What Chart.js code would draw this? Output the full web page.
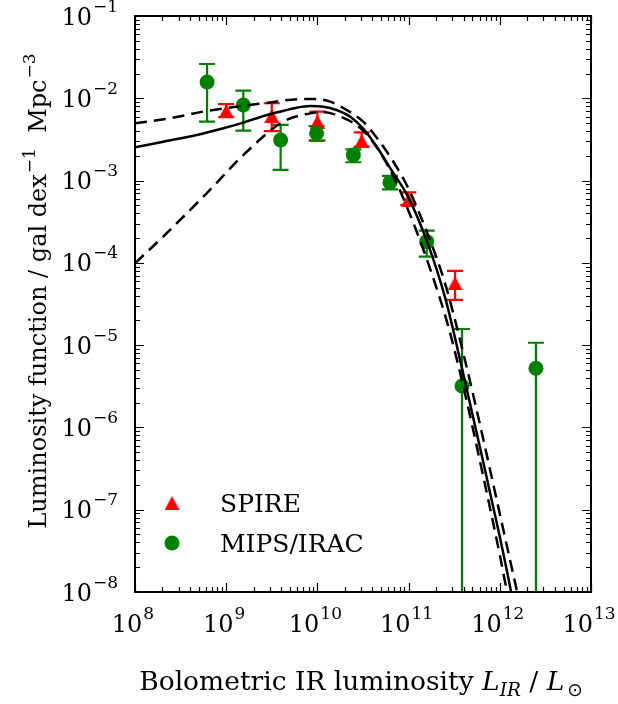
<!DOCTYPE html>
<html><head><meta charset="utf-8">
<script src="https://cdn.jsdelivr.net/npm/chart.js@4.4.1/dist/chart.umd.min.js"></script>
<style>html,body{margin:0;padding:0;background:#fff}canvas{display:block}</style>
</head><body>
<canvas id="c" width="618" height="704"></canvas>
<script>
// ---------- data ----------
const spireL   = [1.0e9, 3.16e9, 1.0e10, 3.06e10, 9.93e10, 3.23e11];
const spirePhi = [7.0e-3, 6.1e-3, 5.2e-3, 3.03e-3, 5.8e-4, 5.65e-5];
const spireLo  = [5.9e-3, 4.0e-3, 3.05e-3, 2.58e-3, 5.06e-4, 3.54e-5];
const spireHi  = [8.5e-3, 8.7e-3, 6.9e-3, 3.86e-3, 7.2e-4, 7.98e-5];

const mipsL   = [6.17e8, 1.54e9, 3.95e9, 9.8e9, 2.48e10, 6.25e10, 1.58e11, 3.85e11, 2.49e12];
const mipsPhi = [1.58e-2, 8.3e-3, 3.11e-3, 3.76e-3, 2.05e-3, 9.5e-4, 1.81e-4, 3.19e-6, 5.24e-6];
const mipsLo  = [5.2e-3, 4.04e-3, 1.35e-3, 3.05e-3, 1.67e-3, 7.8e-4, 1.19e-4, 1e-9, 1e-9];
const mipsHi  = [2.61e-2, 1.24e-2, 4.74e-3, 4.6e-3, 2.4e-3, 1.14e-3, 2.47e-4, 1.57e-5, 1.07e-5];

const solidL   = [1e8, 2.04e8, 4.75e8, 9.33e8, 1.54e9, 2.57e9, 3.89e9, 5.94e9, 8.32e9, 1.17e10, 1.62e10, 2.29e10, 3.16e10, 4.47e10, 6.31e10, 1e11, 1.58e11, 2.51e11, 3.98e11, 6.31e11, 1e12, 1.33e12, 1.58e12];
const solidPhi = [2.54e-3, 2.97e-3, 3.58e-3, 4.32e-3, 5.06e-3, 6.1e-3, 6.87e-3, 7.69e-3, 8.05e-3, 7.91e-3, 7.21e-3, 5.97e-3, 4.32e-3, 2.58e-3, 1.41e-3, 6.17e-4, 1.86e-4, 3.8e-5, 4.47e-6, 4.68e-7, 4.68e-8, 1e-8, 3.5e-9];

const upperL   = [1e8, 2.42e8, 6.11e8, 2.57e9, 7.01e9, 9.77e9, 1.38e10, 2.09e10, 3.18e10, 4.68e10, 7.08e10, 1e11, 1.58e11, 2.51e11, 3.98e11, 6.31e11, 1e12, 1.55e12, 1.78e12];
const upperPhi = [4.97e-3, 5.71e-3, 7.01e-3, 8.69e-3, 9.79e-3, 9.79e-3, 9.1e-3, 7.21e-3, 5.2e-3, 3.11e-3, 1.58e-3, 7.94e-4, 2.4e-4, 5.62e-5, 7.94e-6, 8.91e-7, 8.91e-8, 1e-8, 5e-9];

const lowerL   = [1e8, 2.04e8, 6.11e8, 1.68e9, 4.23e9, 8.32e9, 1.07e10, 1.58e10, 3.16e10, 5.01e10, 7.38e10, 1.17e11, 1.78e11, 2.69e11, 3.98e11, 6.31e11, 1e12, 1.2e12, 1.41e12];
const lowerPhi = [9.9e-5, 2.09e-4, 7.01e-4, 2.24e-3, 5.2e-3, 6.56e-3, 6.82e-3, 6.31e-3, 4.07e-3, 2.09e-3, 9.33e-4, 2.75e-4, 7.59e-5, 1.78e-5, 3.16e-6, 3.16e-7, 2.82e-8, 1e-8, 4e-9];

const xTickValues = [1e8, 1e9, 1e10, 1e11, 1e12, 1e13];
const xTickExp    = ['8', '9', '10', '11', '12', '13'];
const yTickValues = [1e-8, 1e-7, 1e-6, 1e-5, 1e-4, 1e-3, 1e-2, 1e-1];
const yTickExp    = ['\u22128', '\u22127', '\u22126', '\u22125', '\u22124', '\u22123', '\u22122', '\u22121'];
const seriesNames = ['SPIRE', 'MIPS/IRAC'];

// ---------- helpers ----------
const SERIF = '"DejaVu Serif", serif';
const RED = '#ff0000', GREEN = '#008000';

function pts(xs, ys) { return xs.map((v, i) => ({x: v, y: ys[i]})); }

function triangleImg(w, h, color) {
  const c = document.createElement('canvas');
  c.width = w; c.height = h;
  const g = c.getContext('2d');
  g.fillStyle = color;
  g.beginPath(); g.moveTo(w / 2, 0); g.lineTo(w, h); g.lineTo(0, h); g.closePath(); g.fill();
  return c;
}
const triImg = triangleImg(15, 14, RED);

function drawRich(ctx, pieces, x, y, align) {
  let total = 0;
  pieces.forEach(p => { ctx.font = p.font; p.w = ctx.measureText(p.t).width; total += p.w + (p.gap || 0); });
  let cx = align === 'right' ? x - total : align === 'center' ? x - total / 2 : x;
  pieces.forEach(p => {
    ctx.font = p.font;
    cx += (p.gap || 0);
    ctx.fillText(p.t, cx, y + (p.dy || 0));
    cx += p.w;
  });
}

const TICK_FONT = '24px ' + SERIF;
const SUP_FONT = '17px ' + SERIF;

const decorPlugin = {
  id: 'decor',
  beforeDatasetsDraw(chart) {
    const {ctx, chartArea: a, scales: {x, y}} = chart;
    ctx.save();
    ctx.beginPath(); ctx.rect(a.left, a.top, a.right - a.left, a.bottom - a.top); ctx.clip();
    ctx.lineWidth = 2.2;
    const sets = [[spireL, spireLo, spireHi, RED], [mipsL, mipsLo, mipsHi, GREEN]];
    sets.forEach(([L, lo, hi, col]) => {
      ctx.strokeStyle = col;
      L.forEach((v, i) => {
        const px = x.getPixelForValue(v);
        const y1 = y.getPixelForValue(lo[i]), y2 = y.getPixelForValue(hi[i]);
        ctx.beginPath();
        ctx.moveTo(px, y1); ctx.lineTo(px, y2);
        ctx.moveTo(px - 8, y2); ctx.lineTo(px + 8, y2);
        ctx.moveTo(px - 8, y1); ctx.lineTo(px + 8, y1);
        ctx.stroke();
      });
    });
    ctx.restore();
  },
  afterDatasetsDraw(chart) {
    const {ctx, chartArea: a, scales: {x, y}} = chart;
    ctx.save();
    // ticks (inward, all four sides)
    ctx.strokeStyle = '#000'; ctx.lineWidth = 1.2;
    const MAJ = 9, MIN = 5;
    ctx.beginPath();
    for (let e = 8; e <= 13; e++) {
      const px = Math.round(x.getPixelForValue(Math.pow(10, e))) + 0.5;
      ctx.moveTo(px, a.bottom); ctx.lineTo(px, a.bottom - MAJ);
      ctx.moveTo(px, a.top); ctx.lineTo(px, a.top + MAJ);
      if (e < 13) for (let m = 2; m <= 9; m++) {
        const q = Math.round(x.getPixelForValue(m * Math.pow(10, e))) + 0.5;
        ctx.moveTo(q, a.bottom); ctx.lineTo(q, a.bottom - MIN);
        ctx.moveTo(q, a.top); ctx.lineTo(q, a.top + MIN);
      }
    }
    for (let e = -8; e <= -1; e++) {
      const py = Math.round(y.getPixelForValue(Math.pow(10, e))) + 0.5;
      ctx.moveTo(a.left, py); ctx.lineTo(a.left + MAJ, py);
      ctx.moveTo(a.right, py); ctx.lineTo(a.right - MAJ, py);
      if (e < -1) for (let m = 2; m <= 9; m++) {
        const q = Math.round(y.getPixelForValue(m * Math.pow(10, e))) + 0.5;
        ctx.moveTo(a.left, q); ctx.lineTo(a.left + MIN, q);
        ctx.moveTo(a.right, q); ctx.lineTo(a.right - MIN, q);
      }
    }
    ctx.stroke();
    // frame
    ctx.lineWidth = 2;
    ctx.strokeRect(a.left, a.top, a.right - a.left, a.bottom - a.top);

    // tick labels
    ctx.fillStyle = '#000';
    ctx.textBaseline = 'alphabetic';
    xTickValues.forEach((v, i) => {
      const px = x.getPixelForValue(v);
      drawRich(ctx, [{t: '10', font: TICK_FONT}, {t: xTickExp[i], font: SUP_FONT, dy: -13, gap: 1}], px - 2, 632, 'center');
    });
    yTickValues.forEach((v, i) => {
      const py = y.getPixelForValue(v);
      drawRich(ctx, [{t: '10', font: TICK_FONT}, {t: yTickExp[i], font: SUP_FONT, dy: -13, gap: 1}], 118, py + 8.5, 'right');
    });

    // x title
    const XT = '26.5px ' + SERIF, XTI = 'italic 26.5px ' + SERIF, XS = 'italic 18.5px ' + SERIF;
    drawRich(ctx, [
      {t: 'Bolometric IR luminosity ', font: XT},
      {t: 'L', font: XTI},
      {t: 'IR', font: XS, dy: 6},
      {t: ' / ', font: XT},
      {t: 'L', font: XTI},
      {t: '\u2299', font: '18.5px "DejaVu Sans", sans-serif', dy: 6, gap: 3}
    ], 361, 690, 'center');

    // y title (rotated)
    const YT = '24px ' + SERIF, YS = '17px ' + SERIF;
    ctx.save();
    ctx.translate(46, 291);
    ctx.rotate(-Math.PI / 2);
    drawRich(ctx, [
      {t: 'Luminosity function / gal dex', font: YT},
      {t: '\u22121', font: YS, dy: -11, gap: 1},
      {t: '  Mpc', font: YT},
      {t: '\u22123', font: YS, dy: -11, gap: 1}
    ], 0, 0, 'center');
    ctx.restore();

    // legend
    const LF = '25px ' + SERIF;
    ctx.drawImage(triImg, 172 - triImg.width / 2, 503 - triImg.height / 2);
    ctx.fillStyle = GREEN;
    ctx.beginPath(); ctx.arc(172, 543, 7.5, 0, Math.PI * 2); ctx.fill();
    ctx.fillStyle = '#000';
    ctx.font = LF;
    ctx.fillText(seriesNames[0], 220, 512);
    ctx.fillText(seriesNames[1], 220, 552);
    ctx.restore();
  }
};

const lineBase = {type: 'line', borderColor: '#000', borderWidth: 2.5, pointRadius: 0, fill: false, cubicInterpolationMode: 'monotone', order: 0};

new Chart(document.getElementById('c'), {
  type: 'scatter',
  data: {
    datasets: [
      Object.assign({}, lineBase, {label: 'model', data: pts(solidL, solidPhi)}),
      Object.assign({}, lineBase, {label: 'model upper', data: pts(upperL, upperPhi), borderDash: [12, 7]}),
      Object.assign({}, lineBase, {label: 'model lower', data: pts(lowerL, lowerPhi), borderDash: [12, 7]}),
      {label: seriesNames[0], data: pts(spireL, spirePhi), pointStyle: triImg, pointRadius: 8, backgroundColor: RED, borderWidth: 0, order: 2},
      {label: seriesNames[1], data: pts(mipsL, mipsPhi), pointStyle: 'circle', pointRadius: 7.5, backgroundColor: GREEN, borderWidth: 0, order: 1}
    ]
  },
  options: {
    responsive: false,
    devicePixelRatio: 1,
    animation: false,
    layout: {padding: {left: 135, top: 16, right: 27, bottom: 112}},
    plugins: {legend: {display: false}, tooltip: {enabled: false}},
    scales: {
      x: {type: 'logarithmic', min: 1e8, max: 1e13, display: false},
      y: {type: 'logarithmic', min: 1e-8, max: 1e-1, display: false}
    }
  },
  plugins: [decorPlugin]
});
</script>
</body></html>
